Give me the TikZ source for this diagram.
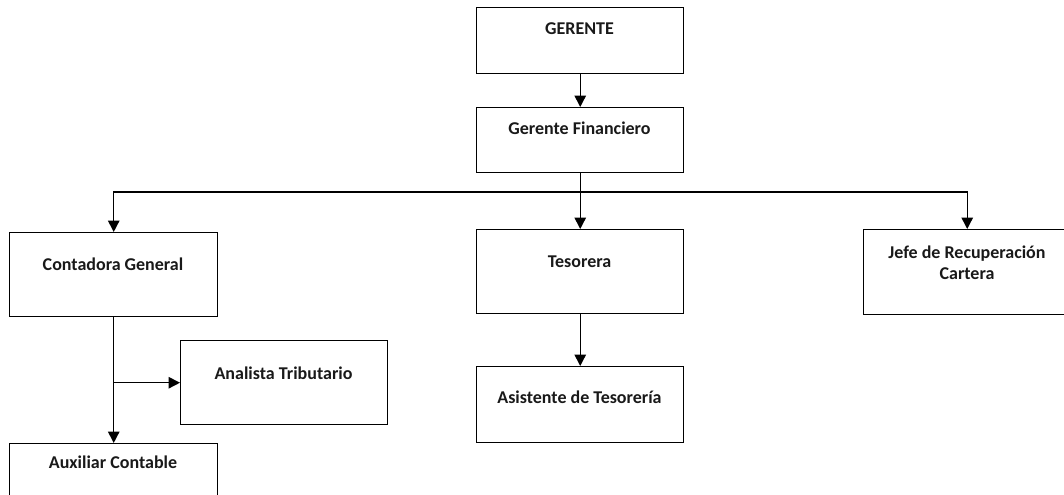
\documentclass[tikz,border=0pt]{standalone}
\usepackage{fontspec}
\setmainfont{Carlito}
\usetikzlibrary{arrows.meta}
\begin{document}
\begin{tikzpicture}[x=0.75pt,y=-0.75pt,
  box/.style={draw, line width=1.1pt, anchor=north west, inner sep=0pt},
  lbl/.style={font=\fontsize{13.5}{15.75}\selectfont\bfseries, text=black!90, align=center, inner sep=0pt},
  arr/.style={line width=1.1pt, -{Triangle[width=8.5pt,length=8.5pt]}}]
\useasboundingbox (0,0) rectangle (1064,495);
\clip (0,0) rectangle (1064,495);

% boxes
\node[box, minimum width=155.25pt, minimum height=49.5pt] (ger) at (476,7) {};
\node[box, minimum width=155.25pt, minimum height=48.75pt] (gf) at (476,107) {};
\node[box, minimum width=156pt, minimum height=63pt] (cont) at (9,232) {};
\node[box, minimum width=155.25pt, minimum height=63pt] (tes) at (476,229) {};
\node[box, minimum width=155.25pt, minimum height=63.75pt] (jefe) at (863,229) {};
\node[box, minimum width=155.25pt, minimum height=63pt] (anal) at (180,340) {};
\node[box, minimum width=155.25pt, minimum height=57pt] (asis) at (476,366) {};
\node[box, minimum width=156pt, minimum height=63pt] (aux) at (9,443) {};

% titles
\node[lbl] (ger-t) at (579.5,29) {GERENTE};
\node[lbl] (gf-t) at (579.5,128) {Gerente Financiero};
\node[lbl] (cont-t) at (113,264) {Contadora General};
\node[lbl] (tes-t) at (579.5,262) {Tesorera};
\node[lbl] (jefe-t) at (967,262.5) {Jefe de Recuperación\\Cartera};
\node[lbl] (anal-t) at (283.5,373) {Analista Tributario};
\node[lbl] (asis-t) at (579.5,397) {Asistente de Tesorería};
\node[lbl] (aux-t) at (113,462) {Auxiliar Contable};

% connectors
\coordinate (bus) at (0,192);
\draw[arr] (ger.south) -- (gf.north);
\draw[arr] (gf.south) -- (tes.north);
\draw[arr] (gf.south |- bus) -| (cont.north);
\draw[arr] (gf.south |- bus) -| (jefe.north);
\draw[arr] (tes.south) -- (asis.north);
\draw[arr] (cont.south) -- (aux.north);
\draw[arr] (cont.south |- anal.west) -- (anal.west);
\end{tikzpicture}
\end{document}
